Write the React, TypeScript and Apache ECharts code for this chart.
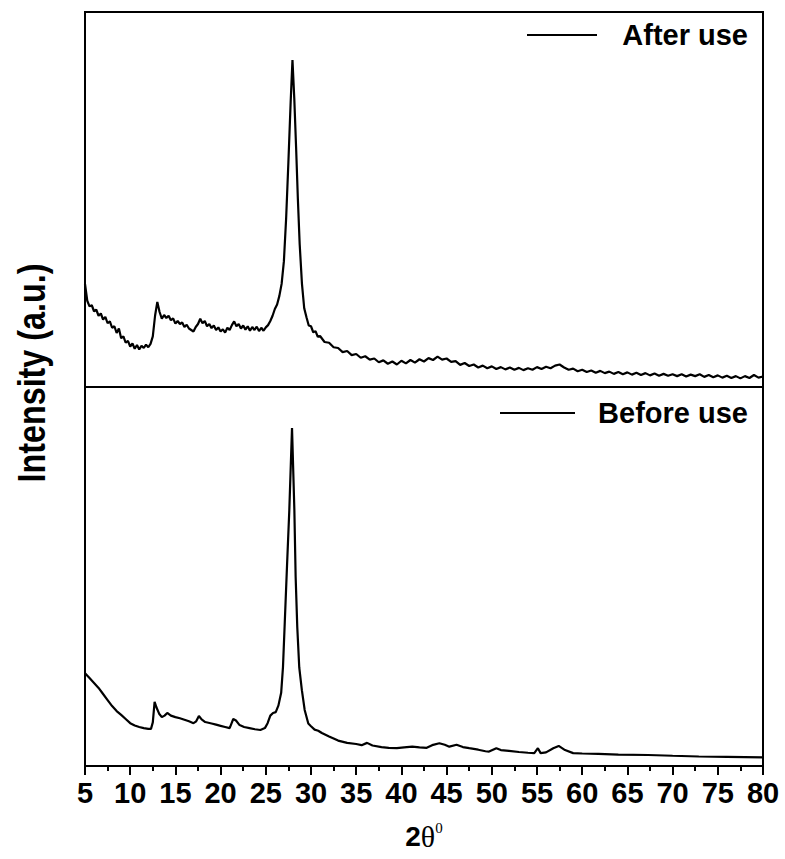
import React, { useEffect, useRef } from "react";
import * as echarts from "echarts";

// 2θ (degrees) and relative intensity (0-100 within each panel)
const afterUse: [number, number][] = [
  [5.0, 27.5], [5.25, 23.0], [5.5, 21.5], [5.75, 21.8], [6.0, 20.2], [6.25, 20.6], [6.5, 19.0], [6.75, 19.6],
  [7.0, 18.0], [7.25, 18.7], [7.5, 17.0], [7.75, 17.5], [8.0, 15.8], [8.25, 16.2], [8.5, 14.4], [8.75, 15.6],
  [9.0, 13.0], [9.25, 13.5], [9.5, 11.8], [9.75, 12.3], [10.0, 10.8], [10.25, 11.6], [10.5, 10.2], [10.75, 11.2],
  [11.0, 10.0], [11.25, 11.0], [11.5, 10.4], [11.75, 11.3], [12.0, 10.6], [12.25, 11.5], [12.5, 13.5], [12.75, 19.0],
  [13.0, 22.7], [13.25, 20.0], [13.5, 18.2], [13.75, 19.2], [14.0, 18.4], [14.25, 19.0], [14.5, 17.8], [14.75, 18.3],
  [15.0, 16.9], [15.25, 17.6], [15.5, 16.8], [15.75, 17.2], [16.0, 16.0], [16.25, 16.6], [16.5, 15.6], [16.75, 15.2],
  [17.0, 14.8], [17.25, 16.0], [17.5, 16.8], [17.75, 18.2], [18.0, 17.0], [18.25, 17.6], [18.5, 16.2], [18.75, 16.8],
  [19.0, 15.7], [19.25, 16.4], [19.5, 15.2], [19.75, 15.9], [20.0, 14.8], [20.25, 15.4], [20.5, 14.5], [20.75, 15.8],
  [21.0, 15.2], [21.25, 16.5], [21.5, 17.5], [21.75, 16.2], [22.0, 16.8], [22.25, 15.6], [22.5, 16.4], [22.75, 15.3],
  [23.0, 16.2], [23.25, 15.0], [23.5, 16.0], [23.75, 15.2], [24.0, 16.1], [24.25, 14.9], [24.5, 15.8], [24.75, 15.0],
  [25.0, 15.9], [25.25, 16.5], [25.5, 17.6], [25.75, 19.0], [26.0, 20.8], [26.25, 22.0], [26.5, 24.3], [26.75, 27.5],
  [27.0, 33.5], [27.25, 45.0], [27.5, 60.0], [27.75, 76.0], [27.95, 87.2], [28.15, 77.0], [28.35, 64.0], [28.55, 50.0],
  [28.75, 38.0], [29.0, 27.5], [29.25, 21.0], [29.5, 18.6], [29.75, 16.4], [30.0, 16.2], [30.25, 14.6], [30.5, 14.9],
  [30.75, 13.4], [31.0, 13.6], [31.5, 12.0], [32.0, 11.8], [32.5, 10.6], [33.0, 10.4], [33.5, 9.3], [34.0, 9.6],
  [34.5, 8.5], [35.0, 8.8], [35.5, 7.8], [36.0, 8.2], [36.5, 7.3], [37.0, 7.6], [37.5, 6.6], [38.0, 7.1],
  [38.5, 6.2], [39.0, 6.8], [39.5, 6.0], [40.0, 7.0], [40.5, 6.3], [41.0, 7.2], [41.5, 6.5], [42.0, 7.4],
  [42.5, 6.8], [43.0, 7.7], [43.5, 7.2], [44.0, 8.1], [44.5, 7.3], [45.0, 7.6], [45.5, 6.7], [46.0, 6.9],
  [46.5, 5.9], [47.0, 6.4], [47.5, 5.6], [48.0, 6.0], [48.5, 5.2], [49.0, 5.7], [49.5, 5.0], [50.0, 5.5],
  [50.5, 4.8], [51.0, 5.3], [51.5, 4.7], [52.0, 5.2], [52.5, 4.6], [53.0, 5.1], [53.5, 4.5], [54.0, 5.0],
  [54.5, 4.6], [55.0, 5.3], [55.5, 4.8], [56.0, 5.4], [56.5, 5.0], [57.0, 5.7], [57.5, 6.0], [58.0, 5.2],
  [58.5, 4.6], [59.0, 4.9], [59.5, 4.2], [60.0, 4.6], [60.5, 4.0], [61.0, 4.4], [61.5, 3.8], [62.0, 4.3],
  [62.5, 3.7], [63.0, 4.1], [63.5, 3.5], [64.0, 4.0], [64.5, 3.4], [65.0, 3.9], [65.5, 3.3], [66.0, 3.8],
  [66.5, 3.2], [67.0, 3.7], [67.5, 3.1], [68.0, 3.6], [68.5, 3.0], [69.0, 3.5], [69.5, 3.0], [70.0, 3.4],
  [70.5, 2.9], [71.0, 3.4], [71.5, 2.8], [72.0, 3.3], [72.5, 2.9], [73.0, 3.4], [73.5, 2.7], [74.0, 3.2],
  [74.5, 2.6], [75.0, 3.1], [75.5, 2.5], [76.0, 3.0], [76.5, 2.4], [77.0, 2.9], [77.5, 2.3], [78.0, 2.9],
  [78.5, 2.4], [79.0, 3.2], [79.5, 2.5], [80.0, 2.8],
];

const beforeUse: [number, number][] = [
  [5.0, 24.5], [5.5, 23.2], [6.0, 21.9], [6.5, 20.6], [7.0, 19.0], [7.5, 17.4], [8.0, 15.8], [8.5, 14.5],
  [9.0, 13.5], [9.5, 12.4], [10.0, 11.3], [10.5, 10.7], [11.0, 10.3], [11.5, 10.0], [12.0, 9.8], [12.3, 9.8],
  [12.5, 11.5], [12.7, 16.9], [12.9, 15.5], [13.2, 13.8], [13.5, 12.9], [13.8, 13.3], [14.1, 14.0], [14.5, 13.3],
  [15.0, 12.9], [15.5, 12.6], [16.0, 12.2], [16.5, 11.8], [17.0, 11.3], [17.3, 11.8], [17.6, 13.2], [17.9, 12.3],
  [18.3, 11.6], [19.0, 11.2], [19.5, 10.9], [20.0, 10.6], [20.5, 10.3], [21.0, 10.0], [21.2, 11.2], [21.4, 12.4],
  [21.7, 12.0], [22.1, 10.8], [22.6, 10.3], [23.2, 10.0], [23.8, 9.7], [24.4, 9.5], [24.9, 10.0], [25.2, 11.3],
  [25.5, 13.3], [25.8, 14.0], [26.1, 14.2], [26.4, 16.0], [26.7, 19.3], [26.9, 26.1], [27.1, 38.0], [27.35, 53.0],
  [27.6, 67.5], [27.9, 89.2], [28.16, 67.5], [28.3, 50.0], [28.48, 36.7], [28.7, 26.0], [28.99, 20.0], [29.3, 14.8],
  [29.7, 11.2], [30.0, 10.5], [30.4, 9.6], [30.8, 9.3], [31.2, 8.7], [32.0, 7.8], [33.0, 6.7], [34.0, 6.1],
  [35.0, 5.8], [35.6, 5.5], [36.2, 6.1], [36.8, 5.4], [37.8, 5.0], [38.6, 4.8], [39.5, 4.7], [40.3, 4.9],
  [41.2, 5.1], [42.0, 4.9], [42.8, 4.8], [43.4, 5.5], [44.2, 6.0], [44.8, 5.6], [45.3, 5.1], [46.1, 5.6],
  [46.8, 5.0], [47.5, 4.7], [48.5, 4.3], [49.3, 3.9], [49.7, 3.8], [50.5, 4.7], [51.0, 4.2], [51.9, 4.0],
  [53.0, 3.7], [54.0, 3.5], [54.7, 3.4], [55.1, 4.7], [55.4, 3.4], [56.0, 3.6], [56.8, 4.7], [57.4, 5.3],
  [58.1, 4.2], [59.0, 3.4], [60.0, 3.3], [61.8, 3.2], [64.0, 3.0], [67.3, 2.9], [70.0, 2.7], [72.9, 2.5],
  [76.0, 2.4], [80.0, 2.3],
];

const xMin = 5;
const xMax = 80;
const xStep = 5;
const seriesNames = ["After use", "Before use"];
const yTitle = "Intensity (a.u.)";

const FONT = "'Liberation Sans', Arial, Helvetica, sans-serif";
const SERIF = "'Liberation Serif', 'Times New Roman', serif";

export default function App() {
  const ref = useRef<HTMLDivElement>(null);
  useEffect(() => {
    const chart = echarts.init(ref.current!, null, { renderer: "svg" });
    const gridL = 85, gridR = 22, top1 = 12, h1 = 375, top2 = 387, h2 = 379;
    chart.setOption({
      animation: false,
      backgroundColor: "#fff",
      grid: [
        { left: gridL, right: gridR, top: top1, height: h1, show: true, borderColor: "#000", borderWidth: 2, backgroundColor: "transparent" },
        { left: gridL, right: gridR, top: top2, height: h2, show: true, borderColor: "#000", borderWidth: 2, backgroundColor: "transparent" },
      ],
      xAxis: [
        { type: "value", gridIndex: 0, min: xMin, max: xMax, interval: xStep, show: false },
        {
          type: "value", gridIndex: 1, min: xMin, max: xMax, interval: xStep,
          axisLine: { show: true, lineStyle: { color: "#000", width: 2 } },
          axisTick: { show: true, inside: false, length: 9, lineStyle: { color: "#000", width: 2 } },
          minorTick: { show: true, splitNumber: 2, length: 5, lineStyle: { color: "#000", width: 2 } },
          splitLine: { show: false },
          axisLabel: { color: "#000", fontSize: 29, fontWeight: "bold", fontFamily: FONT, margin: 12 },
        },
      ],
      yAxis: [
        { type: "value", gridIndex: 0, min: 0, max: 100, show: false },
        { type: "value", gridIndex: 1, min: 0, max: 100, show: false },
      ],
      series: [
        {
          name: seriesNames[0], type: "line", xAxisIndex: 0, yAxisIndex: 0, data: afterUse,
          showSymbol: false, symbol: "none", lineStyle: { color: "#000", width: 2.2 },
        },
        {
          name: seriesNames[1], type: "line", xAxisIndex: 1, yAxisIndex: 1, data: beforeUse,
          showSymbol: false, symbol: "none", lineStyle: { color: "#000", width: 2.2 },
        },
      ],
      graphic: [
        { type: "line", shape: { x1: 527, y1: 35, x2: 597, y2: 35 }, style: { stroke: "#000", lineWidth: 2 } },
        { type: "text", x: 748, y: 35, style: { text: seriesNames[0], fill: "#000", font: `bold 29px ${FONT}`, align: "right", verticalAlign: "middle" } },
        { type: "line", shape: { x1: 500, y1: 413, x2: 575, y2: 413 }, style: { stroke: "#000", lineWidth: 2 } },
        { type: "text", x: 748, y: 413, style: { text: seriesNames[1], fill: "#000", font: `bold 29px ${FONT}`, align: "right", verticalAlign: "middle" } },
        {
          type: "text", x: 32, y: 373, rotation: Math.PI / 2, scaleX: 0.85,
          style: { text: yTitle, fill: "#000", font: `bold 38px ${FONT}`, align: "center", verticalAlign: "middle" },
        },
        {
          type: "text", x: 424, y: 836,
          style: {
            text: "{a|2}{b|θ}{c|0}", align: "center", verticalAlign: "middle",
            rich: {
              a: { fontSize: 28, fontWeight: "bold", fontFamily: FONT, color: "#000" },
              b: { fontSize: 30, fontWeight: "normal", fontFamily: SERIF, color: "#000" },
              c: { fontSize: 15, fontWeight: "normal", fontFamily: SERIF, color: "#000", verticalAlign: "top", padding: [0, 0, 16, 0] },
            },
          },
        },
      ],
    });
    return () => chart.dispose();
  }, []);
  return <div ref={ref} style={{ position: "absolute", left: 0, top: 0, width: 785, height: 859 }} />;
}
